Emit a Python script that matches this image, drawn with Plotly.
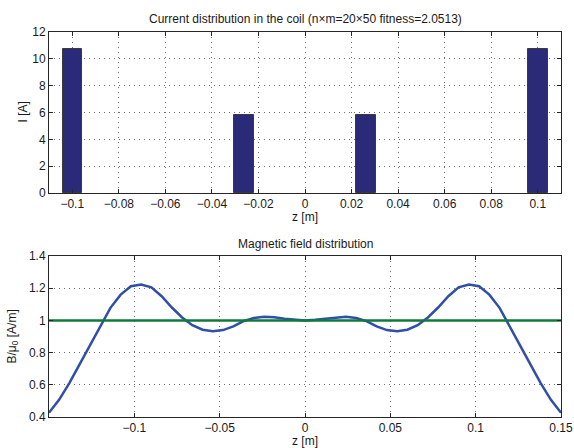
import plotly.graph_objects as go

# ---- data: current distribution (top) ----
bar_z = [-0.1, -0.0263, 0.0263, 0.1]
bar_I = [10.7, 5.85, 5.85, 10.7]

# ---- data: magnetic field (bottom) ----
field_z = [-0.150, -0.144, -0.138, -0.132, -0.126, -0.120, -0.114, -0.108, -0.102, -0.096,
           -0.090, -0.084, -0.078, -0.072, -0.066, -0.060, -0.054, -0.048, -0.042, -0.036,
           -0.030, -0.024, -0.018, -0.012, -0.006, 0.000, 0.006, 0.012, 0.018, 0.024,
           0.030, 0.036, 0.042, 0.048, 0.054, 0.060, 0.066, 0.072, 0.078, 0.084,
           0.090, 0.096, 0.102, 0.108, 0.114, 0.120, 0.126, 0.132, 0.138, 0.144, 0.150]
field_B = [0.427, 0.508, 0.612, 0.728, 0.845, 0.965, 1.078, 1.160, 1.212, 1.223,
           1.205, 1.150, 1.080, 1.018, 0.970, 0.942, 0.933, 0.940, 0.963, 0.996,
           1.015, 1.022, 1.020, 1.010, 1.004, 1.000, 1.004, 1.010, 1.020, 1.022,
           1.015, 0.996, 0.963, 0.940, 0.933, 0.942, 0.970, 1.018, 1.080, 1.150,
           1.205, 1.223, 1.212, 1.160, 1.078, 0.965, 0.845, 0.728, 0.612, 0.508, 0.427]
target_z = [-0.15, 0.15]
target_B = [1.0, 1.0]

top_xticks = [-0.1, -0.08, -0.06, -0.04, -0.02, 0, 0.02, 0.04, 0.06, 0.08, 0.1]
top_xlabels = ["\u22120.1", "\u22120.08", "\u22120.06", "\u22120.04", "\u22120.02", "0",
               "0.02", "0.04", "0.06", "0.08", "0.1"]
top_yticks = [0, 2, 4, 6, 8, 10, 12]
bot_xticks = [-0.1, -0.05, 0, 0.05, 0.1, 0.15]
bot_xlabels = ["\u22120.1", "\u22120.05", "0", "0.05", "0.1", "0.15"]
bot_yticks = [0.4, 0.6, 0.8, 1.0, 1.2, 1.4]
bot_ylabels = ["0.4", "0.6", "0.8", "1", "1.2", "1.4"]

FONT = "Liberation Sans, Arial, Helvetica, sans-serif"
AX = "#262626"
FS = 12

fig = go.Figure()
fig.add_trace(go.Bar(x=bar_z, y=bar_I, width=0.0084, xaxis="x", yaxis="y",
                     marker=dict(color="#2a2a78", line=dict(color="#3a3a3a", width=1)),
                     showlegend=False))
fig.add_trace(go.Scatter(x=field_z, y=field_B, mode="lines", xaxis="x2", yaxis="y2",
                         line=dict(color="#2f4fa8", width=2.5), showlegend=False))
fig.add_trace(go.Scatter(x=target_z, y=target_B, mode="lines", xaxis="x2", yaxis="y2",
                         line=dict(color="#107a3a", width=2.5), showlegend=False))

common = dict(showline=True, linecolor=AX, linewidth=1, mirror="allticks",
              ticks="inside", ticklen=4, tickcolor=AX, automargin=False,
              showgrid=True, gridcolor="#707070", griddash="1px,4px", gridwidth=1,
              zeroline=False, tickfont=dict(family=FONT, size=FS, color="#1a1a1a"))

fig.update_layout(
    width=574, height=448,
    margin=dict(l=49, r=13, t=32, b=31),
    paper_bgcolor="white", plot_bgcolor="white",
    font=dict(family=FONT, size=FS, color="#1a1a1a"),
    bargap=0,
    xaxis=dict(domain=[0, 1], range=[-0.11, 0.11], tickvals=top_xticks, ticktext=top_xlabels,
               anchor="y", **common),
    yaxis=dict(domain=[0.5818, 1.0], range=[0, 12], tickvals=top_yticks, anchor="x", **common),
    xaxis2=dict(domain=[0, 1], range=[-0.15, 0.15], tickvals=bot_xticks, ticktext=bot_xlabels,
                anchor="y2", **common),
    yaxis2=dict(domain=[0, 0.4182], range=[0.4, 1.4], tickvals=bot_yticks, ticktext=bot_ylabels,
                anchor="x2", **common),
    annotations=[
        dict(text="Current distribution in the coil (n\u00d7m=20\u00d750 fitness=2.0513)",
             xref="paper", yref="paper", x=0.5, y=1.0, yshift=4, xanchor="center", yanchor="bottom",
             showarrow=False, font=dict(family=FONT, size=FS)),
        dict(text="z [m]", xref="paper", yref="paper", x=0.5, y=0.5818, yshift=-15,
             xanchor="center", yanchor="top", showarrow=False, font=dict(family=FONT, size=FS)),
        dict(text="I [A]", xref="paper", yref="paper", x=0, xshift=-26, y=0.7909,
             xanchor="center", yanchor="middle", textangle=-90, showarrow=False,
             font=dict(family=FONT, size=FS)),
        dict(text="Magnetic field distribution",
             xref="paper", yref="paper", x=0.5, y=0.4182, yshift=3, xanchor="center", yanchor="bottom",
             showarrow=False, font=dict(family=FONT, size=FS)),
        dict(text="z [m]", xref="paper", yref="paper", x=0.5, y=0, yshift=-15,
             xanchor="center", yanchor="top", showarrow=False, font=dict(family=FONT, size=FS)),
        dict(text="B/\u03bc<sub>0</sub> [A/m]", xref="paper", yref="paper", x=0, xshift=-36, y=0.2091,
             xanchor="center", yanchor="middle", textangle=-90, showarrow=False,
             font=dict(family=FONT, size=FS)),
    ],
)

fig.write_html("out.html", config={"displayModeBar": False},
               post_script="document.body.style.margin='0';")
